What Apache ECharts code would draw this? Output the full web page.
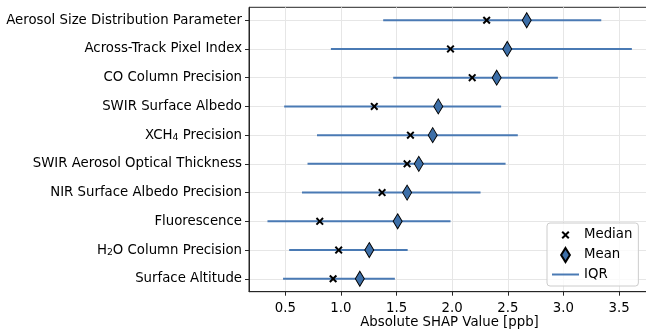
<!DOCTYPE html>
<html>
<head>
<meta charset="utf-8">
<script src="https://cdn.jsdelivr.net/npm/echarts@6/dist/echarts.min.js"></script>
<style>
  html, body { margin: 0; padding: 0; background: #fff; }
  #chart { width: 646px; height: 331px; }
</style>
</head>
<body>
<div id="chart"></div>
<script>
// features, top to bottom
const categories = [
    'Aerosol Size Distribution Parameter',
    'Across-Track Pixel Index',
    'CO Column Precision',
    'SWIR Surface Albedo',
    'XCH{sub|4} Precision',
    'SWIR Aerosol Optical Thickness',
    'NIR Surface Albedo Precision',
    'Fluorescence',
    'H{sub|2}O Column Precision',
    'Surface Altitude'
];
const medians = [2.31, 1.985, 2.18, 1.30, 1.625, 1.595, 1.37, 0.81, 0.98, 0.93];
const means = [2.67, 2.495, 2.40, 1.875, 1.825, 1.70, 1.595, 1.51, 1.255, 1.17];
const iqrLow = [1.38, 0.91, 1.47, 0.49, 0.785, 0.70, 0.65, 0.34, 0.535, 0.48];
const iqrHigh = [3.34, 3.615, 2.95, 2.44, 2.59, 2.48, 2.255, 1.985, 1.60, 1.485];
const xTicks = [0.5, 1.0, 1.5, 2.0, 2.5, 3.0, 3.5];

const FONT = 'DejaVu Sans';
const FS = 13.3;
const lineColor = '#4a7ab4';
const diamondColor = '#3d6fa8';

// x marker with an empty margin so the legend icon stays small
const xMarker = 'path://M0,0M14,14M3,4.4L4.4,3L7,5.6L9.6,3L11,4.4L8.4,7L11,9.6L9.6,11L7,8.4L4.4,11L3,9.6L5.6,7Z';
const diamond = 'path://M5,0L10,8L5,16L0,8Z';

const iqrData = [];
iqrLow.forEach((lo, i) => {
    iqrData.push([lo, i], [iqrHigh[i], i], ['-', i]);
});
const rowIdx = categories.map((c, i) => i);

const chart = echarts.init(document.getElementById('chart'));
chart.setOption({
    animation: false,
    backgroundColor: '#fff',
    textStyle: { fontFamily: FONT },
    grid: {
        left: 249, top: 7.3, width: 401, height: 284.4,
        outerBoundsMode: 'none',
        containLabel: false,
        show: true, borderColor: '#262626', borderWidth: 1
    },
    xAxis: {
        type: 'value',
        min: 0.174,
        max: 3.778,
        splitNumber: 7,
        name: 'Absolute SHAP Value [ppb]',
        nameLocation: 'middle',
        nameGap: 24,
        nameMoveOverlap: false,
        nameTextStyle: { fontSize: FS, color: '#000', fontFamily: FONT },
        axisLine: { onZero: false, lineStyle: { color: '#262626', width: 1 } },
        axisTick: { show: true, length: 4, customValues: xTicks, lineStyle: { color: '#262626' } },
        axisLabel: {
            fontSize: FS, color: '#000', margin: 10, fontFamily: FONT,
            customValues: xTicks,
            formatter: v => v.toFixed(1)
        },
        splitLine: { show: true, lineStyle: { color: '#e6e6e6', width: 1 } }
    },
    yAxis: {
        type: 'value',
        inverse: true,
        min: -0.45,
        max: 9.45,
        splitNumber: 10,
        axisLine: { show: true, onZero: false, lineStyle: { color: '#262626', width: 1 } },
        axisTick: { show: true, length: 4, customValues: rowIdx, lineStyle: { color: '#262626' } },
        axisLabel: {
            fontSize: FS, color: '#000', margin: 7, fontFamily: FONT,
            customValues: rowIdx,
            formatter: v => categories[Math.round(v)] || '',
            rich: {
                sub: { fontSize: 9.3, color: '#000', fontFamily: FONT, verticalAlign: 'bottom', padding: [5, 0, 0, 0] }
            }
        },
        splitLine: { show: true, lineStyle: { color: '#e6e6e6', width: 1 } }
    },
    legend: {
        orient: 'vertical',
        left: 547,
        top: 223,
        data: [
            { name: 'Median' },
            { name: 'Mean' },
            { name: 'IQR', icon: 'path://M0,0L27,0L27,2L0,2Z' }
        ],
        itemWidth: 27,
        itemHeight: 14,
        itemGap: 5,
        itemTextGap: 10,
        padding: [5, 6, 5, 5],
        borderColor: '#cccccc',
        borderWidth: 1,
        borderRadius: 3,
        backgroundColor: 'rgba(255,255,255,0.8)',
        textStyle: { fontSize: FS, color: '#000', fontFamily: FONT }
    },
    series: [
        {
            name: 'IQR',
            type: 'line',
            data: iqrData,
            symbol: 'none',
            connectNulls: false,
            lineStyle: { color: lineColor, width: 2 },
            itemStyle: { color: lineColor },
            z: 2
        },
        {
            name: 'Median',
            type: 'scatter',
            data: medians.map((v, i) => [v, i]),
            symbol: xMarker,
            symbolSize: 14,
            itemStyle: { color: '#000', opacity: 1 },
            z: 3
        },
        {
            name: 'Mean',
            type: 'scatter',
            data: means.map((v, i) => [v, i]),
            symbol: diamond,
            symbolSize: [9, 15],
            itemStyle: { color: diamondColor, borderColor: '#000', borderWidth: 1, opacity: 1 },
            z: 4
        }
    ]
});
</script>
</body>
</html>
